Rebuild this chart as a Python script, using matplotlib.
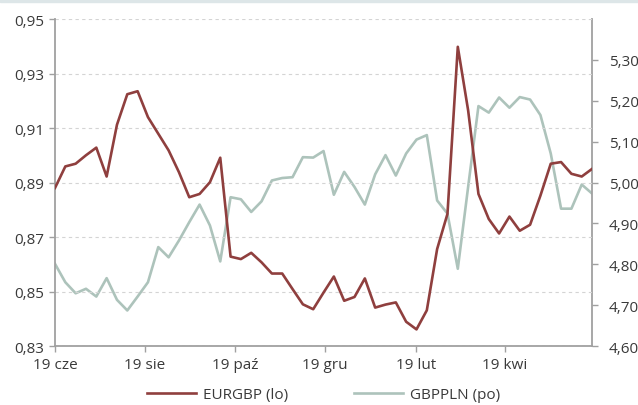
import matplotlib
matplotlib.use("Agg")
import matplotlib.pyplot as plt
import numpy as np
import pandas as pd

# weekly observations, Jun 2019 - Jun 2020
dates = pd.date_range("2019-06-19", periods=53, freq="7D")

eurgbp = [0.888, 0.8959, 0.8969, 0.9000, 0.9028, 0.8922, 0.9112, 0.9224, 0.9235, 0.9140,
          0.9079, 0.9018, 0.8938, 0.8846, 0.8858, 0.8901, 0.8991, 0.8628, 0.8619, 0.8642,
          0.8607, 0.8566, 0.8566, 0.8509, 0.8453, 0.8435, 0.8496, 0.8555, 0.8466, 0.8480,
          0.8548, 0.8441, 0.8452, 0.8460, 0.8389, 0.8361, 0.8431, 0.8656, 0.8785, 0.9398,
          0.9165, 0.8858, 0.8766, 0.8713, 0.8775, 0.8723, 0.8745, 0.8852, 0.8969, 0.8975,
          0.8932, 0.8922, 0.8950]

gbppln = [4.801, 4.756, 4.729, 4.740, 4.721, 4.766, 4.713, 4.687, 4.721, 4.756,
          4.842, 4.817, 4.858, 4.903, 4.946, 4.895, 4.807, 4.964, 4.959, 4.928,
          4.954, 5.005, 5.011, 5.013, 5.062, 5.061, 5.077, 4.970, 5.026, 4.989,
          4.946, 5.020, 5.067, 5.017, 5.071, 5.105, 5.116, 4.956, 4.924, 4.789,
          4.989, 5.187, 5.171, 5.208, 5.183, 5.209, 5.203, 5.165, 5.071, 4.936,
          4.936, 4.995, 4.973]

tick_dates = pd.to_datetime(["2019-06-19", "2019-08-19", "2019-10-19",
                             "2019-12-19", "2020-02-19", "2020-04-19"])
tick_labels = ["19 cze", "19 sie", "19 paź", "19 gru", "19 lut", "19 kwi"]

left_ticks = [0.83, 0.85, 0.87, 0.89, 0.91, 0.93, 0.95]
right_ticks = [4.60, 4.70, 4.80, 4.90, 5.00, 5.10, 5.20, 5.30]

red = "#8f3f3e"
green = "#adc3bb"
spine_col = "#a0a0a0"
txt = "#3a3a3a"

plt.rcParams["font.family"] = ["Open Sans", "DejaVu Sans"]

fig = plt.figure(figsize=(6.38, 4.06), dpi=100)
ax = fig.add_axes([0.0862, 0.1453, 0.8418, 0.8054])
ax2 = ax.twinx()

# top band
fig.patches.append(plt.Rectangle((0, 0.993), 1, 0.007, transform=fig.transFigure,
                                 color="#dde6e8", zorder=0))

l1, = ax.plot(dates, eurgbp, color=red, lw=1.9, label="EURGBP (lo)", zorder=3)
l2, = ax2.plot(dates, gbppln, color=green, lw=1.9, label="GBPPLN (po)", zorder=2)
ax.set_zorder(ax2.get_zorder() + 1)
ax.patch.set_visible(False)

ax.set_ylim(0.83, 0.95)
ax2.set_ylim(4.60, 5.40)
ax.set_xlim(dates[0], dates[-1])

ax.set_yticks(left_ticks)
ax.set_yticklabels([f"{v:.2f}".replace(".", ",") for v in left_ticks])
ax2.set_yticks(right_ticks)
ax2.set_yticklabels([f"{v:.2f}".replace(".", ",") for v in right_ticks])
ax.set_xticks(tick_dates)
ax.set_xticklabels(tick_labels)

ax.grid(axis="y", color="#d4d4d4", ls=(0, (3, 3)), lw=0.8)
ax.set_axisbelow(True)

for a in (ax, ax2):
    a.spines["top"].set_visible(False)
    for s in ("left", "right", "bottom"):
        a.spines[s].set_color(spine_col)
        a.spines[s].set_linewidth(1.3)
    a.tick_params(colors=spine_col, labelcolor=txt, labelsize=11, length=4, width=1)
ax.spines["right"].set_visible(False)
ax2.spines["left"].set_visible(False)
ax2.spines["bottom"].set_visible(False)
ax.tick_params(axis="y", pad=4)
ax2.tick_params(axis="y", pad=8)
ax.tick_params(axis="x", pad=4)

fig.legend(handles=[l1, l2], loc="center", bbox_to_anchor=(0.507, 0.025), ncol=2,
           frameon=False, fontsize=11, labelcolor=txt, handlelength=3.2,
           columnspacing=4.3, handletextpad=0.45, borderpad=0.1)

fig.savefig("out.png", dpi=100)
